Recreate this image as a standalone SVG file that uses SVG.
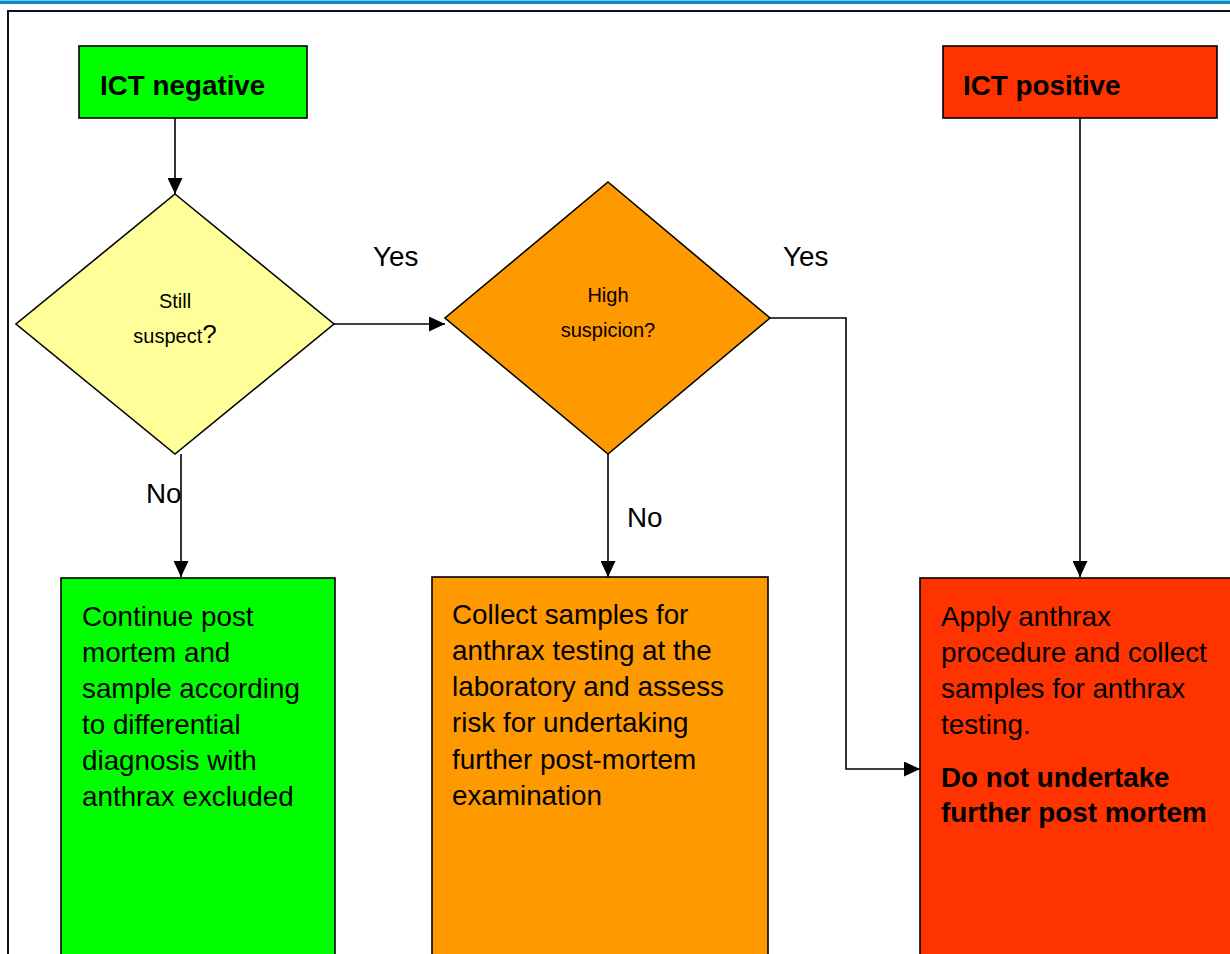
<svg xmlns="http://www.w3.org/2000/svg" width="1230" height="954" viewBox="0 0 1230 954">
<style>
text{font-family:"Liberation Sans",Arial,sans-serif;fill:#000}
.big{font-size:27.8px}
.bold{font-weight:bold}
.small{font-size:20px}
.shape{stroke:#000;stroke-width:1.6}
.conn{fill:none;stroke:#000;stroke-width:1.6}
</style>
<defs>
<marker id="arr" markerWidth="16" markerHeight="15" refX="16" refY="7.5" orient="auto" markerUnits="userSpaceOnUse">
<path d="M0,0 L16,7.5 L0,15 Z" fill="#000"/>
</marker>
</defs>
<rect x="0" y="0" width="1230" height="954" fill="#fff"/>
<rect x="0" y="0.5" width="1230" height="3.5" fill="#0b87c9"/>
<path d="M8,960 L8,11 L1232,11" fill="none" stroke="#111" stroke-width="2"/>

<g id="connectors">
<line class="conn" x1="175" y1="118" x2="175" y2="194" marker-end="url(#arr)"/>
<line class="conn" x1="334" y1="324" x2="445" y2="324" marker-end="url(#arr)"/>
<line class="conn" x1="181" y1="454" x2="181" y2="577" marker-end="url(#arr)"/>
<line class="conn" x1="608" y1="454" x2="608" y2="577" marker-end="url(#arr)"/>
<polyline class="conn" points="770,318 846,318 846,769 920,769" marker-end="url(#arr)"/>
<line class="conn" x1="1080" y1="118" x2="1080" y2="577" marker-end="url(#arr)"/>
<text class="big" x="373" y="266">Yes</text>
<text class="big" x="783" y="266">Yes</text>
<text class="big" x="146" y="503">No</text>
<text class="big" x="627" y="527">No</text>
</g>

<g id="ict-negative">
<rect class="shape" x="79" y="46" width="228" height="72" fill="#00ff00"/>
<text class="big bold" x="100" y="95">ICT negative</text>
</g>

<g id="ict-positive">
<rect class="shape" x="943" y="46" width="274" height="72" fill="#ff3300"/>
<text class="big bold" x="963" y="95">ICT positive</text>
</g>

<g id="still-suspect">
<polygon class="shape" points="175,194 334,324 175,454 16,324" fill="#ffff99"/>
<text class="small" x="175" y="308" text-anchor="middle">Still</text>
<text class="small" x="175" y="343" text-anchor="middle">suspect<tspan font-size="26">?</tspan></text>
</g>

<g id="high-suspicion">
<polygon class="shape" points="608,182 770,318 608,454 445,318" fill="#ff9900"/>
<text class="small" x="608" y="302" text-anchor="middle">High</text>
<text class="small" x="608" y="337" text-anchor="middle">suspicion?</text>
</g>

<g id="continue-post-mortem">
<rect class="shape" x="61" y="578" width="274" height="390" fill="#00ff00"/>
<text class="big" x="82">
<tspan x="82" y="626">Continue post</tspan>
<tspan x="82" y="662">mortem and</tspan>
<tspan x="82" y="698">sample according</tspan>
<tspan x="82" y="734">to differential</tspan>
<tspan x="82" y="770">diagnosis with</tspan>
<tspan x="82" y="806">anthrax excluded</tspan>
</text>
</g>

<g id="collect-samples">
<rect class="shape" x="432" y="577" width="336" height="390" fill="#ff9900"/>
<text class="big">
<tspan x="452" y="624">Collect samples for</tspan>
<tspan x="452" y="660">anthrax testing at the</tspan>
<tspan x="452" y="696">laboratory and assess</tspan>
<tspan x="452" y="732">risk for undertaking</tspan>
<tspan x="452" y="769">further post-mortem</tspan>
<tspan x="452" y="805">examination</tspan>
</text>
</g>

<g id="apply-anthrax-procedure">
<rect class="shape" x="920" y="578" width="320" height="390" fill="#ff3300"/>
<text class="big">
<tspan x="941" y="626">Apply anthrax</tspan>
<tspan x="941" y="662">procedure and collect</tspan>
<tspan x="941" y="698">samples for anthrax</tspan>
<tspan x="941" y="734">testing.</tspan>
</text>
<text class="big bold">
<tspan x="941" y="787">Do not undertake</tspan>
<tspan x="941" y="822">further post mortem</tspan>
</text>
</g>
</svg>
